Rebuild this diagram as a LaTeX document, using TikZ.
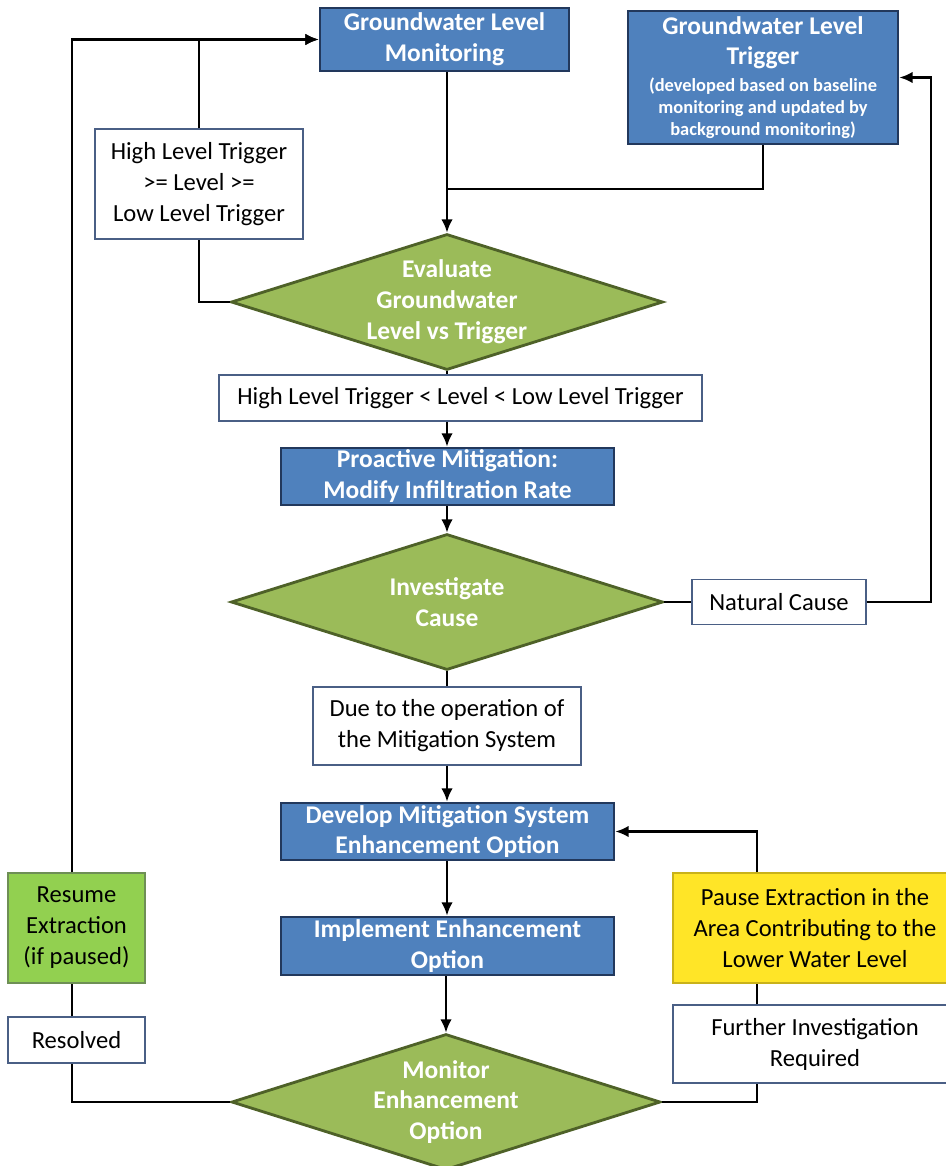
\documentclass[tikz,border=0pt]{standalone}
\usepackage{fontspec}
\setmainfont{Carlito}
\usepackage{tikz}
\usetikzlibrary{arrows.meta,positioning,calc,shapes.geometric}
\definecolor{boxblue}{HTML}{4F81BD}
\definecolor{boxedge}{HTML}{22385C}
\definecolor{diagreen}{HTML}{9BBB59}
\definecolor{diaedge}{HTML}{4E6128}
\definecolor{textedge}{HTML}{4A5F85}
\definecolor{resgreen}{HTML}{92D050}
\definecolor{resedge}{HTML}{6E8F55}
\definecolor{pauseyel}{HTML}{FFE527}
\definecolor{pauseedge}{HTML}{C9B21A}

\begin{document}
\begin{tikzpicture}[x=0.02cm,y=-0.02cm,>={Latex[length=7.5pt,width=6.5pt]},
  every node/.style={font=\fontsize{14}{17.6}\selectfont,align=center,inner sep=0pt},
  bluebox/.style={draw=boxedge,line width=1.6pt,fill=boxblue,text=white,
    font=\bfseries\fontsize{14.5}{17.6}\selectfont},
  textbox/.style={draw=textedge,line width=0.8pt,fill=white},
  dia/.style={shape=diamond,draw=diaedge,line width=1.6pt,fill=diagreen,
    minimum width=8.64cm,minimum height=2.72cm},
  diatext/.style={text=white,font=\bfseries\fontsize{14.5}{17.6}\selectfont},
  flow/.style={line width=1.3pt}]
  \useasboundingbox (0,0) rectangle (946,1166);
  % top row
  \node[bluebox,minimum width=4.98cm,minimum height=1.26cm] (mon) at (444.5,39.5)
    {Groundwater Level\\Monitoring};
  \node[bluebox,font=\bfseries\fontsize{10.5}{12.5}\selectfont,minimum width=5.4cm,minimum height=2.66cm] (trig) at (763,77.5)
    {{\fontsize{14.5}{17.6}\selectfont Groundwater Level}\\[5.1pt]
     {\fontsize{14.5}{17.6}\selectfont Trigger}\\[2.8pt]
     (developed based on baseline\\monitoring and updated by\\background monitoring)};
  \node[textbox,minimum width=4.16cm,minimum height=2.2cm] (hlt) at (199,184)
    {High Level Trigger\\>= Level >=\\Low Level Trigger};
  % first check
  \node[dia,label={[diatext]center:{Evaluate\\Groundwater\\Level vs Trigger}}] (eval) at (447,302) {};
  \node[textbox,minimum width=9.66cm,minimum height=0.92cm] (band) at (460.5,398)
    {High Level Trigger < Level < Low Level Trigger};
  \node[bluebox,minimum width=6.66cm,minimum height=1.14cm] (pro) at (447.5,476.5)
    {Proactive Mitigation:\\Modify Infiltration Rate};
  \node[dia,label={[diatext]center:{Investigate\\Cause}}] (inv) at (447,602) {};
  \node[textbox,minimum width=3.48cm,minimum height=0.9cm] (nat) at (779,602) {Natural Cause};
  \node[textbox,minimum width=5.36cm,minimum height=1.56cm] (due) at (447,726)
    {Due to the operation of\\the Mitigation System};
  % enhancement loop
  \node[bluebox,minimum width=6.66cm,minimum height=1.14cm] (dev) at (447.5,831.5)
    {Develop Mitigation System\\Enhancement Option};
  \node[bluebox,minimum width=6.66cm,minimum height=1.16cm] (imp) at (447.5,946)
    {Implement Enhancement\\Option};
  \node[dia,minimum width=8.58cm,label={[diatext]center:{Monitor\\Enhancement\\Option}}] (check) at (446,1102) {};
  \node[draw=resedge,line width=0.8pt,fill=resgreen,minimum width=2.74cm,minimum height=2.2cm] (resume) at (76.5,928)
    {Resume\\Extraction\\(if paused)};
  \node[textbox,minimum width=2.74cm,minimum height=0.92cm] (resolved) at (76.5,1040) {Resolved};
  \node[draw=pauseedge,line width=0.8pt,fill=pauseyel,minimum width=5.68cm,minimum height=2.2cm] (pause) at (815,928)
    {Pause Extraction in the\\Area Contributing to the\\Lower Water Level};
  \node[textbox,minimum width=5.68cm,minimum height=1.56cm] (further) at (815,1044)
    {Further Investigation\\Required};
  \coordinate (leftx) at (72,0);
  \coordinate (rightx) at (931,0);
  \coordinate (pausex) at (757,0);
  \coordinate (join) at (447,189);
  % connectors
  \draw[flow,->] (eval.north |- mon.south) -- (eval.north);
  \draw[flow] (trig.south) |- (join);
  \draw[flow] (eval.west) -| (hlt.south);
  \draw[flow,->] (hlt.north) |- (mon.west);
  \draw[flow] (eval.south) -- (eval.south |- band.north);
  \draw[flow,->] (eval.south |- band.south) -- (eval.south |- pro.north);
  \draw[flow,->] (inv.north |- pro.south) -- (inv.north);
  \draw[flow] (inv.east) -- (nat.west);
  \draw[flow,->] (nat.east) -| (rightx |- trig.east) -- (trig.east);
  \draw[flow] (inv.south) -- (due.north);
  \draw[flow,->] (due.south) -- (due.south |- dev.north);
  \draw[flow,->] (due.south |- dev.south) -- (due.south |- imp.north);
  \draw[flow,->] (check.north |- imp.south) -- (check.north);
  \draw[flow] (check.west) -| (leftx |- resolved.south);
  \draw[flow] (leftx |- resolved.north) -- (leftx |- resume.south);
  \draw[flow,->] (leftx |- resume.north) |- (mon.west);
  \draw[flow] (check.east) -| (pausex |- further.south);
  \draw[flow] (pausex |- further.north) -- (pausex |- pause.south);
  \draw[flow,->] (pausex |- pause.north) |- (dev.east);
\end{tikzpicture}
\end{document}
